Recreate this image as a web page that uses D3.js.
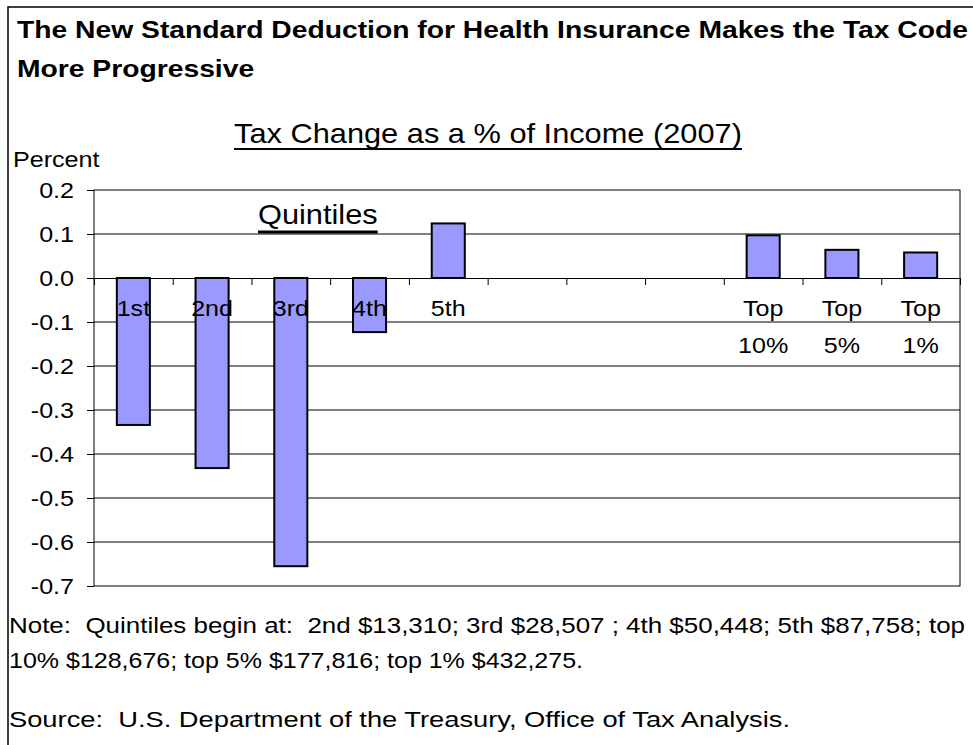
<!DOCTYPE html>
<html>
<head>
<meta charset="utf-8">
<script src="https://cdn.jsdelivr.net/npm/d3@7"></script>
<style>
  body { margin: 0; background: #fff; }
  text { font-family: "Liberation Sans", Arial, sans-serif; fill: #000; white-space: pre; }
</style>
</head>
<body>
<svg id="chart" width="973" height="745"></svg>
<script>
// categories along the x axis (blank slots are the gap before the top groups)
const categories = ['1st', '2nd', '3rd', '4th', '5th', '', '', '', 'Top|10%', 'Top|5%', 'Top|1%'];
// tax change as a % of income
const values = [-0.334, -0.432, -0.655, -0.123, 0.124, null, null, null, 0.097, 0.064, 0.058];
const yTicks = [0.2, 0.1, 0.0, -0.1, -0.2, -0.3, -0.4, -0.5, -0.6, -0.7];

const titleLines = [
  'The New Standard Deduction for Health Insurance Makes the Tax Code',
  'More Progressive',
];
const subtitle = 'Tax Change as a % of Income (2007)';
const noteLines = [
  'Note:  Quintiles begin at:  2nd $13,310; 3rd $28,507 ; 4th $50,448; 5th $87,758; top',
  '10% $128,676; top 5% $177,816; top 1% $432,275.',
];
const sourceLine = 'Source:  U.S. Department of the Treasury, Office of Tax Analysis.';

// the reference is stretched a little horizontally, so text is widened to match
const SX = 1.14;

const svg = d3.select('#chart');
const plot = { left: 94, right: 960, top: 190, bottom: 586 };

// outer frame (runs off the right / bottom of the picture)
svg.append('rect')
  .attr('x', 8).attr('y', 7)
  .attr('width', 990).attr('height', 760)
  .style('fill', '#fff')
  .style('stroke', '#000')
  .style('stroke-width', 1.5);

function addText(x, y, str, size, opts = {}) {
  const t = svg.append('text')
    .attr('xml:space', 'preserve')
    .attr('transform', `translate(${x},${y}) scale(${SX},1)`)
    .attr('font-size', size)
    .attr('font-weight', opts.bold ? 'bold' : 'normal')
    .attr('text-anchor', opts.anchor || 'start')
    .text(str);
  if (opts.width) {
    t.attr('textLength', opts.width / SX).attr('lengthAdjust', 'spacingAndGlyphs');
  }
  return t;
}

function underline(textSel, y, width) {
  const node = textSel.node();
  const len = node.getComputedTextLength() * SX;
  const anchor = textSel.attr('text-anchor');
  const m = /translate\(([^,]+),/.exec(textSel.attr('transform'));
  const x0 = +m[1] - (anchor === 'middle' ? len / 2 : 0);
  svg.append('line')
    .attr('x1', x0).attr('x2', x0 + len)
    .attr('y1', y).attr('y2', y)
    .style('stroke', '#000')
    .style('stroke-width', width);
}

// titles
titleLines.forEach((t, i) => addText(17, 38 + i * 39, t, 24.8, { bold: true }));
const sub = addText(488, 143, subtitle, 27, { anchor: 'middle' });
underline(sub, 149, 2);
addText(13, 167, 'Percent', 22);

// scales
const y = d3.scaleLinear().domain([0.2, -0.7]).range([plot.top, plot.bottom]);
const x = d3.scaleBand()
  .domain(d3.range(categories.length))
  .range([plot.left, plot.right])
  .paddingInner(0.58)
  .paddingOuter(0.29);
const xEdge = d3.scaleLinear()
  .domain([0, categories.length])
  .range([plot.left, plot.right]);

// gridlines
svg.append('g')
  .selectAll('line')
  .data(yTicks.filter((d) => d < 0.2 && d > -0.7 && d !== 0))
  .enter()
  .append('line')
  .attr('x1', plot.left).attr('x2', plot.right)
  .attr('y1', (d) => y(d)).attr('y2', (d) => y(d))
  .style('stroke', '#000')
  .style('stroke-width', 1);

// plot border
svg.append('rect')
  .attr('x', plot.left).attr('y', plot.top)
  .attr('width', plot.right - plot.left)
  .attr('height', plot.bottom - plot.top)
  .style('fill', 'none')
  .style('stroke', '#000')
  .style('stroke-width', 1);

// y axis
const yAxis = svg.append('g')
  .attr('transform', `translate(${plot.left},0)`)
  .call(d3.axisLeft(y).tickValues(yTicks).tickFormat(d3.format('.1f')).tickSize(7).tickSizeOuter(0));
yAxis.select('.domain').remove();
yAxis.selectAll('line').style('stroke', '#000');
yAxis.selectAll('text')
  .attr('font-size', 22)
  .attr('font-family', '"Liberation Sans", Arial, sans-serif')
  .attr('x', -20 / SX)
  .attr('dy', '0.35em')
  .attr('transform', `scale(${SX},1)`)
  .text((d) => d3.format('.1f')(d).replace('−', '-'));

// x axis along zero with ticks at the category edges
const xAxis = svg.append('g')
  .attr('transform', `translate(0,${y(0)})`)
  .call(d3.axisBottom(xEdge).tickValues(d3.range(categories.length + 1)).tickFormat('').tickSize(7).tickSizeOuter(0));
xAxis.selectAll('line, path').style('stroke', '#000');

// bars
svg.append('g')
  .selectAll('rect')
  .data(values.map((v, i) => ({ v, i })).filter((d) => d.v !== null))
  .enter()
  .append('rect')
  .attr('x', (d) => x(d.i))
  .attr('y', (d) => y(Math.max(0, d.v)))
  .attr('width', x.bandwidth())
  .attr('height', (d) => Math.abs(y(d.v) - y(0)))
  .style('fill', '#9999FF')
  .style('stroke', '#000')
  .style('stroke-width', 2);

// category labels
categories.forEach((c, i) => {
  c.split('|').forEach((part, j) => {
    if (!part) return;
    addText(x(i) + x.bandwidth() / 2, 316 + j * 37, part, 22, { anchor: 'middle' });
  });
});

// "Quintiles" note inside the plot
const q = addText(258, 224, 'Quintiles', 27);
underline(q, 232, 3);

// notes under the chart
const noteWidths = [956, 574];
noteLines.forEach((t, i) => addText(9, 633 + i * 35, t, 22, { width: noteWidths[i] }));
addText(9, 727, sourceLine, 22, { width: 781 });
</script>
</body>
</html>
